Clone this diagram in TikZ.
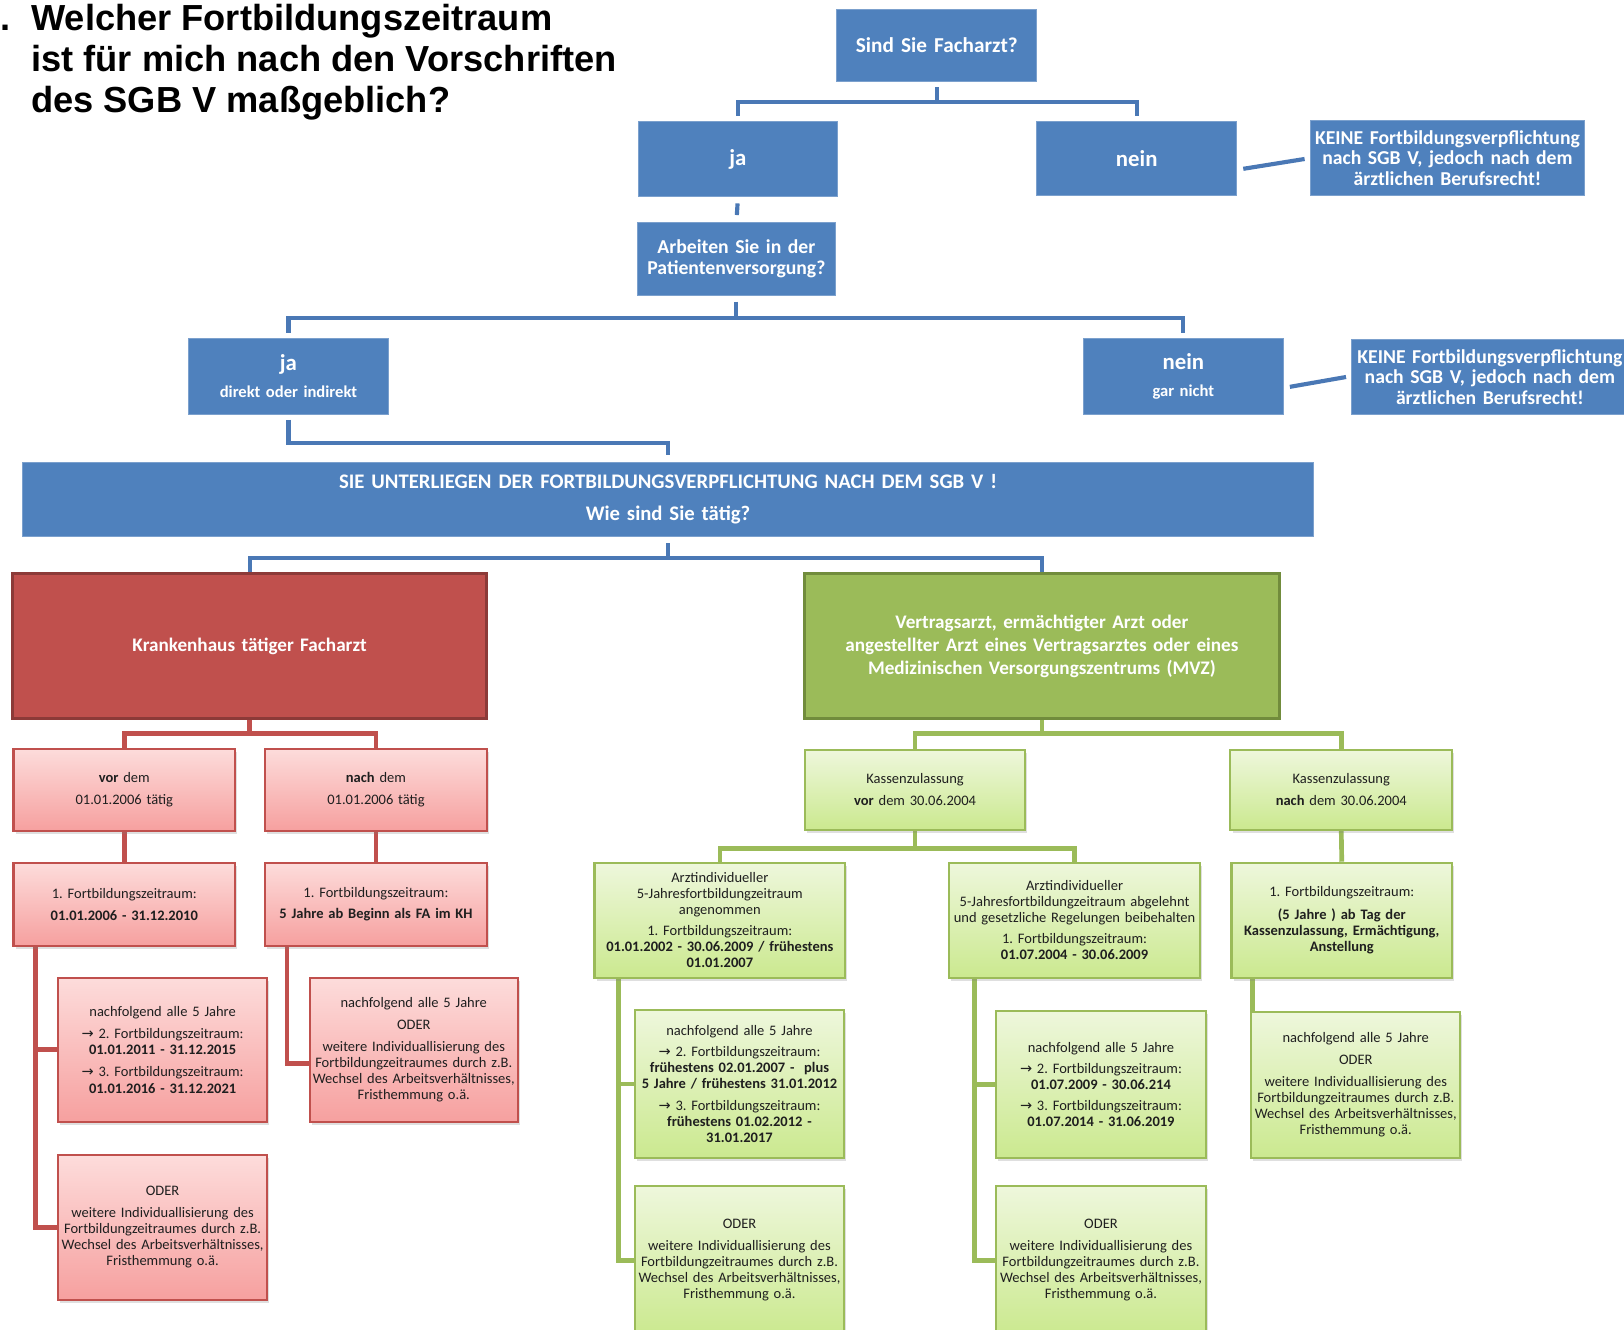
\documentclass[tikz,border=0pt]{standalone}
\usepackage{fontspec}
\setmainfont{Carlito}[WordSpace=0.8]
\newfontfamily\titlefont{Liberation Sans}
\newfontfamily\arr{DejaVu Sans}
\usetikzlibrary{calc,shadows,backgrounds}
\definecolor{bfill}{HTML}{4F81BD}
\definecolor{bline}{HTML}{4A78B5}
\definecolor{rfill}{HTML}{C0504D}
\definecolor{rdark}{HTML}{8C3A38}
\definecolor{gfill}{HTML}{9BBB59}
\definecolor{gdark}{HTML}{718C3C}
\definecolor{ptop}{HTML}{FDDCDB}
\definecolor{pbot}{HTML}{F6A09F}
\definecolor{gtop}{HTML}{EEF7DC}
\definecolor{gbot}{HTML}{CBE98F}
\newcommand{\ar}{{\arr\fontsize{14}{15}\selectfont →}}
\frenchspacing
\begin{document}
\begin{tikzpicture}[x=1pt,y=-1pt,
  sz/.style 2 args={minimum width=#1pt, minimum height=#2pt, text width=#1pt},
  base/.style={rectangle, inner xsep=0pt, inner ysep=0pt, align=center},
  bluebox/.style={base, fill=bfill, draw=bfill!75!white, line width=0.8pt, text=white, font=\fontsize{19}{20}\selectfont\bfseries},
  redbig/.style={base, fill=rfill, draw=rdark, line width=3pt, text=white, font=\fontsize{18.5}{22}\selectfont\bfseries},
  greenbig/.style={base, fill=gfill, draw=gdark, line width=3pt, text=white, font=\fontsize{18.5}{22}\selectfont\bfseries},
  pbox/.style={base, top color=ptop, bottom color=pbot, draw=rfill, line width=2pt, text=black!88, font=\fontsize{14}{15.5}\selectfont, drop shadow={opacity=0.25, shadow xshift=2pt, shadow yshift=-3pt}},
  gbox/.style={base, top color=gtop, bottom color=gbot, draw=gfill, line width=2pt, text=black!88, font=\fontsize{14}{15.5}\selectfont, drop shadow={opacity=0.25, shadow xshift=2pt, shadow yshift=-3pt}},
  bcon/.style={draw=bline, line width=4pt},
  rcon/.style={draw=rfill, line width=4.5pt},
  gcon/.style={draw=gfill, line width=4.5pt},
  ttl/.style={anchor=base west, inner sep=0pt, font=\titlefont\fontsize{35}{40}\selectfont\bfseries}
]
\useasboundingbox (0,0) rectangle (1568,1284);
% title
\node[ttl] (t0) at (0,29) {.};
\node[ttl] (t1) at (30,29) {Welcher Fortbildungszeitraum};
\node[ttl] (t2) at (30,69) {ist für mich nach den Vorschriften};
\node[ttl] (t3) at (30,109) {des SGB V maßgeblich?};
% blue
\node[bluebox, sz={193}{70}, font=\fontsize{20.5}{22}\selectfont\bfseries] (sind) at (904.5,44) {Sind Sie Facharzt?};
\node[bluebox, sz={193}{73}, font=\fontsize{22}{24}\selectfont\bfseries] (ja1) at (712.5,153.5) {ja};
\node[bluebox, sz={193}{72}, font=\fontsize{22}{24}\selectfont\bfseries] (nein1) at (1097.5,153) {nein};
\node[bluebox, sz={265}{73}] (keine1) at (1397.5,152.5) {KEINE Fortbildungsverpflichtung\\nach SGB V, jedoch nach dem\\ärztlichen Berufsrecht!};
\node[bluebox, sz={192}{70}] (arb) at (711,250) {Arbeiten Sie in der\\Patientenversorgung?};
\node[bluebox, sz={193}{73}, font=\fontsize{16}{18}\selectfont\bfseries] (ja2) at (278.5,363.5) {{\fontsize{22}{24}\selectfont ja}\\[8pt]direkt oder indirekt};
\node[bluebox, sz={193}{73}, font=\fontsize{16}{18}\selectfont\bfseries] (nein2) at (1142.5,363.5) {{\fontsize{22}{24}\selectfont nein}\\[8pt]gar nicht};
\node[bluebox, sz={267}{72}] (keine2) at (1438.5,364) {KEINE Fortbildungsverpflichtung\\nach SGB V, jedoch nach dem\\ärztlichen Berufsrecht!};
\node[bluebox, sz={1246}{72}, font=\fontsize{20}{24}\selectfont\bfseries] (sie) at (645,482) {SIE UNTERLIEGEN DER FORTBILDUNGSVERPFLICHTUNG NACH DEM SGB V !\\[7pt]Wie sind Sie tätig?};
% big
\node[redbig, sz={458}{140}] (red) at (241,624) {Krankenhaus tätiger Facharzt};
\node[greenbig, sz={458}{140}] (green) at (1006,624) {Vertragsarzt, ermächtigter Arzt oder\\angestellter Arzt eines Vertragsarztes oder eines\\Medizinischen Versorgungszentrums (MVZ)};
% red subtree
\node[pbox, sz={214}{79}] (vor) at (120,762.5) {\textbf{vor} dem\\[5.5pt]01.01.2006 tätig};
\node[pbox, sz={214}{79}] (nach) at (363,762.5) {\textbf{nach} dem\\[5.5pt]01.01.2006 tätig};
\node[pbox, sz={214}{80}] (f1a) at (120,873) {1. Fortbildungszeitraum:\\[5.5pt]\textbf{01.01.2006 - 31.12.2010}};
\node[pbox, sz={214}{80}] (f1b) at (363,873) {1. Fortbildungszeitraum:\\[5.5pt]\textbf{5 Jahre ab Beginn als FA im KH}};
\node[pbox, sz={202}{139}] (n1a) at (157,1013.5) {nachfolgend alle 5 Jahre\\[6pt]\ar\ 2. Fortbildungszeitraum:\\\textbf{01.01.2011 - 31.12.2015}\\[6pt]\ar\ 3. Fortbildungszeitraum:\\\textbf{01.01.2016 - 31.12.2021}};
\node[pbox, sz={202}{140}] (oder1) at (157,1185) {ODER\\[5.5pt]weitere Individuallisierung des\\Fortbildungzeitraumes durch z.B.\\Wechsel des Arbeitsverhältnisses,\\Fristhemmung o.ä.};
\node[pbox, sz={201}{139}] (n1b) at (399.5,1013.5) {nachfolgend alle 5 Jahre\\[5.5pt]ODER\\[5.5pt]weitere Individuallisierung des\\Fortbildungzeitraumes durch z.B.\\Wechsel des Arbeitsverhältnisses,\\Fristhemmung o.ä.};
% green subtree
\node[gbox, sz={213}{77}] (k1) at (883.5,762.5) {Kassenzulassung\\[5.5pt]\textbf{vor} dem 30.06.2004};
\node[gbox, sz={214}{77}] (k2) at (1295,762.5) {Kassenzulassung\\[5.5pt]\textbf{nach} dem 30.06.2004};
\node[gbox, sz={242}{111}] (a1) at (695,888.5) {Arztindividueller\\5-Jahresfortbildungzeitraum\\angenommen\\[5pt]1. Fortbildungszeitraum:\\\textbf{01.01.2002 - 30.06.2009 / frühestens}\\\textbf{01.01.2007}};
\node[gbox, sz={243}{111}] (a2) at (1037.5,888.5) {Arztindividueller\\5-Jahresfortbildungzeitraum abgelehnt\\und gesetzliche Regelungen beibehalten\\[5pt]1. Fortbildungszeitraum:\\\textbf{01.07.2004 - 30.06.2009}};
\node[gbox, sz={213}{111}] (f1c) at (1295.5,888.5) {1. Fortbildungszeitraum:\\[6pt]\textbf{(5 Jahre ) ab Tag der}\\\textbf{Kassenzulassung, Ermächtigung,}\\\textbf{Anstellung}};
\node[gbox, sz={202}{143}] (n2a) at (714,1046.5) {nachfolgend alle 5 Jahre\\[5pt]\ar\ 2. Fortbildungszeitraum:\\\textbf{frühestens 02.01.2007 -\ \ plus}\\\textbf{5 Jahre / frühestens 31.01.2012}\\[5pt]\ar\ 3. Fortbildungszeitraum:\\\textbf{frühestens 01.02.2012 -}\\\textbf{31.01.2017}};
\node[gbox, sz={202}{144}] (oder2) at (714,1217) {ODER\\[5.5pt]weitere Individuallisierung des\\Fortbildungzeitraumes durch z.B.\\Wechsel des Arbeitsverhältnisses,\\Fristhemmung o.ä.};
\node[gbox, sz={202}{142}] (n2b) at (1063,1047) {nachfolgend alle 5 Jahre\\[5pt]\ar\ 2. Fortbildungszeitraum:\\\textbf{01.07.2009 - 30.06.214}\\[5pt]\ar\ 3. Fortbildungszeitraum:\\\textbf{01.07.2014 - 31.06.2019}};
\node[gbox, sz={202}{144}] (oder3) at (1063,1217) {ODER\\[5.5pt]weitere Individuallisierung des\\Fortbildungzeitraumes durch z.B.\\Wechsel des Arbeitsverhältnisses,\\Fristhemmung o.ä.};
\node[gbox, sz={202}{141}] (n2c) at (1309,1047.5) {nachfolgend alle 5 Jahre\\[5.5pt]ODER\\[5.5pt]weitere Individuallisierung des\\Fortbildungzeitraumes durch z.B.\\Wechsel des Arbeitsverhältnisses,\\Fristhemmung o.ä.};
% connectors
\begin{scope}[on background layer]
\fill[white] (0,0) rectangle (1568,1284);
\draw[bcon, shorten <=5pt, shorten >=5pt] (sind.south) -- ++(0,19) -| (ja1.north);
\draw[bcon, shorten <=5pt, shorten >=5pt] (sind.south) -- ++(0,19) -| (nein1.north);
\draw[bcon, shorten <=6pt, shorten >=7pt] (ja1.south) -- (arb.north);
\draw[bcon, shorten <=6pt, shorten >=5pt] (arb.south) -- ++(0,22) -| (ja2.north);
\draw[bcon, shorten <=6pt, shorten >=5pt] (arb.south) -- ++(0,22) -| (nein2.north);
\draw[bcon, shorten <=5pt, shorten >=6pt] (ja2.south) -- ++(0,27) -| (sie.north);
\draw[bcon, shorten <=6pt] (sie.south) -- ++(0,20) -| (red.north);
\draw[bcon, shorten <=6pt] (sie.south) -- ++(0,20) -| (green.north);
\draw[bcon] ($(nein1.east)+(6,10)$) -- ($(keine1.west)+(-5,1)$);
\draw[bcon] ($(nein2.east)+(6,10)$) -- ($(keine2.west)+(-5,0)$);
\draw[rcon] (red.south) -- ++(0,13) -| (vor.north);
\draw[rcon] (red.south) -- ++(0,13) -| (nach.north);
\draw[rcon] (vor.south) -- (f1a.north);
\draw[rcon] (nach.south) -- (f1b.north);
\draw[rcon] ($(f1a.south west)+(22,0)$) |- (n1a.west);
\draw[rcon] ($(f1a.south west)+(22,0)$) |- (oder1.west);
\draw[rcon] ($(f1b.south west)+(22,0)$) |- ($(n1b.west)+(0,13)$);
\draw[gcon] (green.south) -- ++(0,13) -| (k1.north);
\draw[gcon] (green.south) -- ++(0,13) -| (k2.north);
\draw[gcon] (k1.south) -- ++(0,17) -| (a1.north);
\draw[gcon] (k1.south) -- ++(0,17) -| (a2.north);
\draw[gcon] (k2.south) -- (f1c.north);
\draw[gcon] ($(a1.south west)+(24,0)$) |- (n2a.west);
\draw[gcon] ($(a1.south west)+(24,0)$) |- (oder2.west);
\draw[gcon] ($(a2.south west)+(26,0)$) |- (n2b.west);
\draw[gcon] ($(a2.south west)+(26,0)$) |- (oder3.west);
\draw[gcon] ($(f1c.south west)+(21,0)$) |- ($(n2c.north west)+(0,55)$);
\end{scope}
\end{tikzpicture}
\end{document}
